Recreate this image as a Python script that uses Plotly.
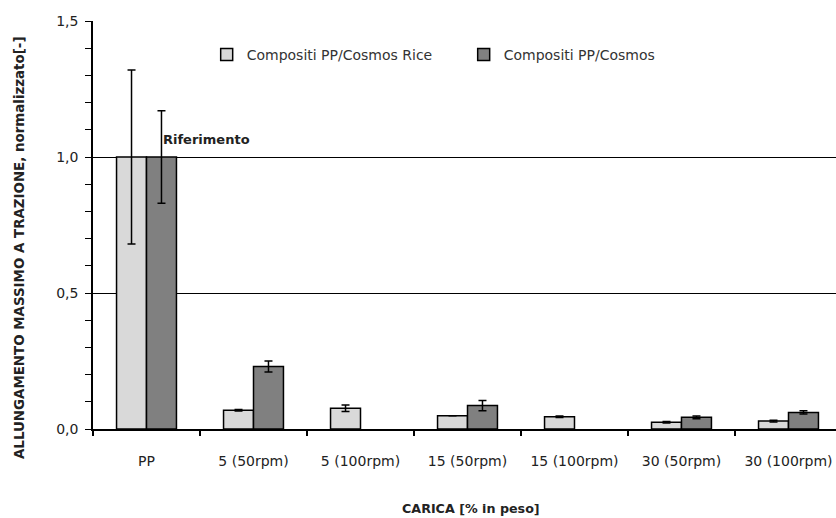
import plotly.graph_objects as go

# Categories (filler content, % by weight)
categories = ["PP", "5 (50rpm)", "5 (100rpm)", "15 (50rpm)", "15 (100rpm)", "30 (50rpm)", "30 (100rpm)"]

# Normalised maximum elongation at break
rice_values = [1.0, 0.069, 0.076, 0.049, 0.045, 0.025, 0.029]
rice_errors = [0.32, 0.003, 0.012, 0.0, 0.003, 0.003, 0.003]
cosmos_values = [1.0, 0.23, None, 0.086, None, 0.043, 0.061]
cosmos_errors = [0.17, 0.02, 0.0, 0.019, 0.0, 0.005, 0.006]

FONT = "DejaVu Sans"
TEXT = "#222222"

fig = go.Figure()
fig.add_trace(go.Bar(
    name="Compositi PP/Cosmos Rice", x=categories, y=rice_values,
    marker=dict(color="#d9d9d9", line=dict(color="black", width=1.5)),
    error_y=dict(type="data", array=rice_errors, color="black", thickness=1.5, width=4),
))
fig.add_trace(go.Bar(
    name="Compositi PP/Cosmos", x=categories, y=cosmos_values,
    marker=dict(color="#808080", line=dict(color="black", width=1.5)),
    error_y=dict(type="data", array=cosmos_errors, color="black", thickness=1.5, width=4),
))

fig.update_layout(
    width=836, height=518,
    margin=dict(l=93, r=0, t=21, b=89),
    paper_bgcolor="white", plot_bgcolor="white",
    separators=",.",
    barmode="group", bargap=0.44, bargroupgap=0.0,
    font=dict(family=FONT, size=14, color=TEXT),
    showlegend=True,
    legend=dict(
        orientation="h", x=0.153, y=0.917, xanchor="left", yanchor="middle",
        font=dict(family=FONT, size=14, color="#333333"),
        bgcolor="rgba(0,0,0,0)", entrywidth=212, traceorder="normal",
    ),
    xaxis=dict(
        type="category", range=[-0.5, 6.444], tickson="boundaries",
        ticks="outside", ticklen=5, tickcolor="black", tickwidth=1.5,
        showline=True, linecolor="black", linewidth=1.5,
        showgrid=False, ticklabelstandoff=18,
        tickfont=dict(family=FONT, size=14, color=TEXT),
    ),
    yaxis=dict(
        range=[0, 1.5], dtick=0.5, tickformat=".1f",
        ticks="outside", ticklen=6, tickcolor="black",
        showline=True, linecolor="black", linewidth=1.5,
        showgrid=True, gridcolor="black", gridwidth=1,
        zeroline=False, ticklabelstandoff=4,
        minor=dict(dtick=0.1, ticks="outside", ticklen=6, tickcolor="black", showgrid=False),
        tickfont=dict(family=FONT, size=14, color=TEXT),
    ),
    annotations=[
        dict(text="Riferimento", x="PP", y=1.0, xref="x", yref="y",
             xanchor="left", yanchor="bottom", xshift=14, yshift=8, showarrow=False,
             font=dict(family=FONT, size=13, color=TEXT, weight="bold")),
        dict(text="ALLUNGAMENTO MASSIMO A TRAZIONE, normalizzato[-]",
             x=19, y=518 - 248, xref="paper", yref="paper", showarrow=False,
             textangle=-90, xanchor="center", yanchor="middle",
             font=dict(family=FONT, size=13.4, color=TEXT, weight="bold")),
        dict(text="CARICA [% in peso]", x=471, y=518 - 508, xref="paper", yref="paper",
             showarrow=False, xanchor="center", yanchor="middle",
             font=dict(family=FONT, size=12.7, color=TEXT, weight="bold")),
    ],
)

# Axis-title annotations are positioned in pixels: convert to paper fractions
pw, ph = 836 - 93, 518 - 21 - 89
for ann in fig.layout.annotations[1:]:
    ann.x = (ann.x - 93) / pw
    ann.y = (ann.y - 89) / ph

fig.write_html("out.html")
